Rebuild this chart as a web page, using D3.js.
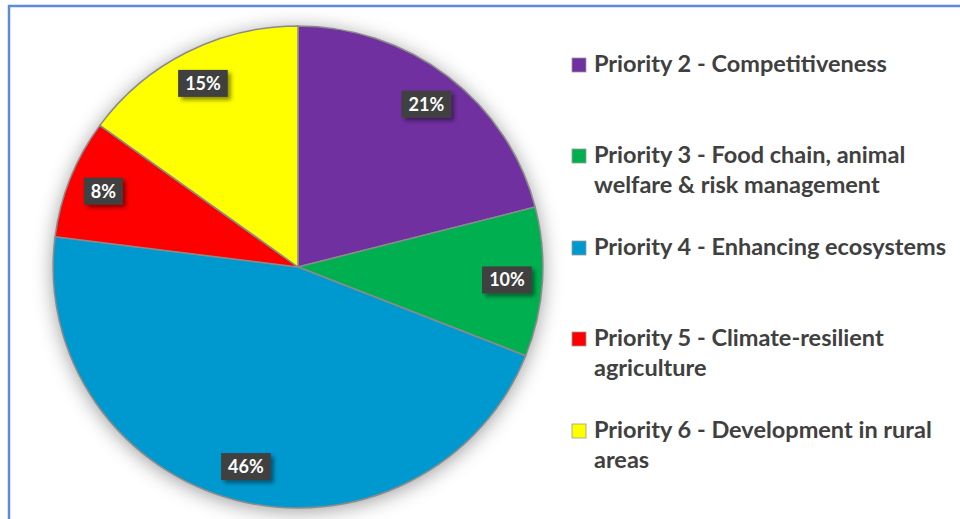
<!DOCTYPE html>
<html>
<head>
<meta charset="utf-8">
<script src="https://cdn.jsdelivr.net/npm/d3@7"></script>
<style>
  html, body { margin: 0; padding: 0; background: #fff; }
  svg { display: block; }
</style>
</head>
<body>
<svg id="chart" width="960" height="519"></svg>
<script>
// Share of funding by priority (percent)
const categories = [
  "Priority 2 - Competitiveness",
  "Priority 3 - Food chain, animal welfare & risk management",
  "Priority 4 - Enhancing ecosystems",
  "Priority 5 - Climate-resilient agriculture",
  "Priority 6 - Development in rural areas"
];
const legendLines = [
  ["Priority 2 - Competitiveness"],
  ["Priority 3 - Food chain, animal", "welfare & risk management"],
  ["Priority 4 - Enhancing ecosystems"],
  ["Priority 5 - Climate-resilient", "agriculture"],
  ["Priority 6 - Development in rural", "areas"]
];
const values = [21, 10, 46, 8, 15];
const colors = ["#7030A0", "#00B050", "#0099CF", "#FF0000", "#FFFF00"];

const svg = d3.select("#chart");
const W = 960, H = 519;

// frame
svg.append("rect")
  .attr("x", 9).attr("y", 6)
  .attr("width", W + 10).attr("height", H + 10)
  .attr("fill", "none")
  .attr("stroke", "#5B8DD0")
  .attr("stroke-width", 2.5);

const defs = svg.append("defs");
const pieShadow = defs.append("filter").attr("id", "pieShadow")
  .attr("x", "-20%").attr("y", "-20%").attr("width", "140%").attr("height", "140%");
pieShadow.append("feDropShadow")
  .attr("dx", 0).attr("dy", 3).attr("stdDeviation", 10)
  .attr("flood-color", "#000").attr("flood-opacity", 0.4);

const boxShadow = defs.append("filter").attr("id", "boxShadow")
  .attr("x", "-30%").attr("y", "-30%").attr("width", "170%").attr("height", "170%");
boxShadow.append("feDropShadow")
  .attr("dx", 3).attr("dy", 3).attr("stdDeviation", 2)
  .attr("flood-color", "#000").attr("flood-opacity", 0.45);

const cx = 298, cy = 267, R = 241, stretchX = 1.016;

const pie = d3.pie().sort(null).value(d => d)(values);
const arc = d3.arc().innerRadius(0).outerRadius(R);
const labelArc = d3.arc().innerRadius(R * 0.855).outerRadius(R * 0.855);

const g = svg.append("g").attr("transform", `translate(${cx},${cy})`);
const slices = g.append("g").attr("transform", `scale(${stretchX},1)`);

// shadow disc beneath the slices
slices.append("circle").attr("r", R).attr("fill", "#fff").attr("filter", "url(#pieShadow)");

slices.selectAll("path.slice")
  .data(pie)
  .join("path")
  .attr("class", "slice")
  .attr("d", arc)
  .attr("fill", (d, i) => colors[i])
  .attr("stroke", "#8a8a8a")
  .attr("stroke-width", 1.5)
  .attr("stroke-linejoin", "round");

// data labels
const lab = g.selectAll("g.lab")
  .data(pie)
  .join("g")
  .attr("class", "lab")
  .attr("transform", d => {
    const [x, y] = labelArc.centroid(d);
    return `translate(${x * stretchX},${y})`;
  });

lab.each(function(d) {
  const sel = d3.select(this);
  const t = sel.append("text")
    .attr("text-anchor", "middle")
    .attr("dy", "0.36em")
    .attr("font-family", "Lato, 'Open Sans', sans-serif")
    .attr("font-weight", "bold")
    .attr("font-size", 18)
    .attr("fill", "#fff")
    .text(d.data + "%");
  const w = t.node().getComputedTextLength();
  sel.insert("rect", "text")
    .attr("x", -w / 2 - 7).attr("y", -13.5)
    .attr("width", w + 14).attr("height", 27)
    .attr("fill", "#404040")
    .attr("filter", "url(#boxShadow)");
});

// legend
const legendX = 572;
const legendBase = [72, 163, 255, 346, 438];
const lineGap = 29.5;
const lg = svg.append("g");
legendLines.forEach((lines, i) => {
  lg.append("rect")
    .attr("x", legendX).attr("y", legendBase[i] - 14)
    .attr("width", 14).attr("height", 14)
    .attr("fill", colors[i])
    .attr("stroke", "#9a9a9a").attr("stroke-width", 0.8);
  lines.forEach((ln, j) => {
    lg.append("text")
      .attr("x", legendX + 22)
      .attr("y", legendBase[i] + j * lineGap)
      .attr("font-family", "Lato, 'Open Sans', sans-serif")
      .attr("font-weight", "bold")
      .attr("font-size", 23.5)
      .attr("fill", "#404040")
      .text(ln);
  });
});
</script>
</body>
</html>
